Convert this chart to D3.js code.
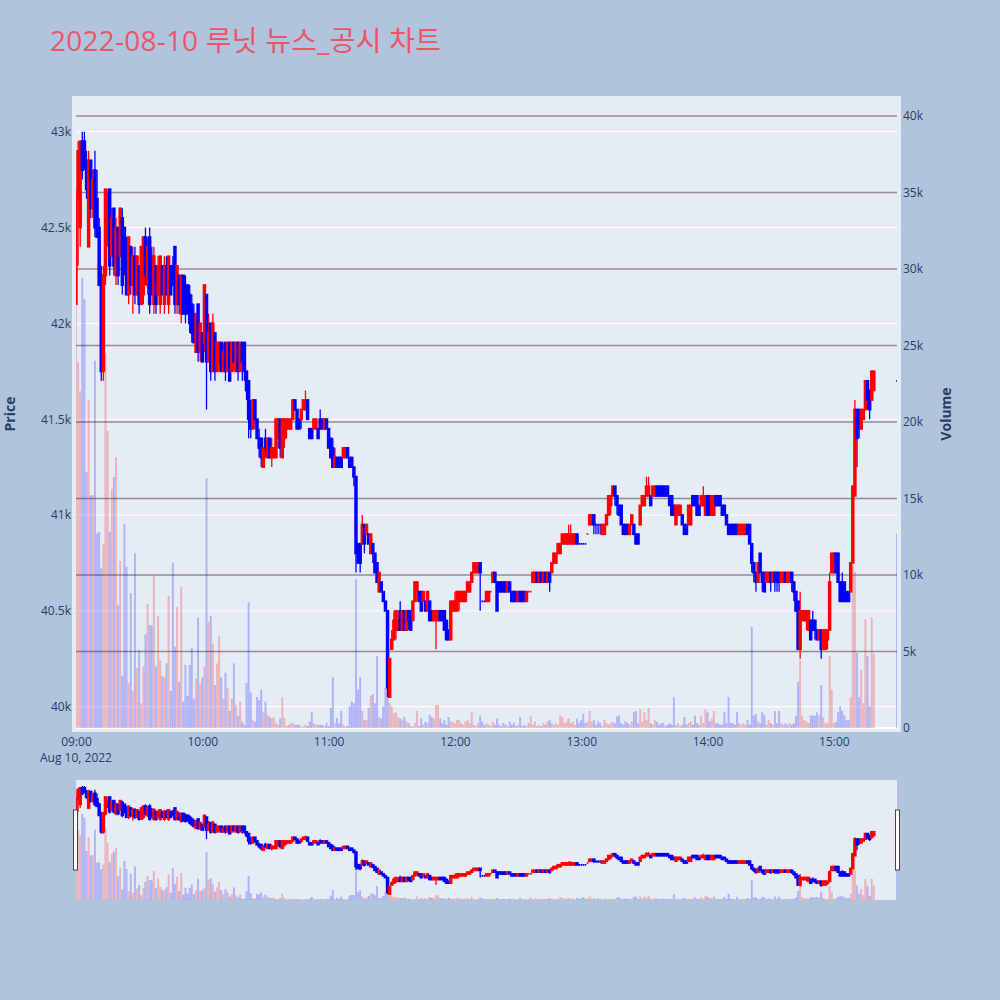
<!DOCTYPE html>
<html><head><meta charset="utf-8">
<script src="https://cdn.jsdelivr.net/npm/d3@7"></script>
<style>html,body{margin:0;padding:0;background:#B0C4DE}svg{display:block}</style>
</head><body>
<svg id="chart" width="1000" height="1000"></svg>
<script>
// ---------------- data ----------------
const titleText = "2022-08-10 루닛 뉴스_공시 차트";
const sessionDate = "2022-08-10";
const sessionOpen = "09:00";
const sessionClose = "15:30";
// minutes after 09:00 for each candle (regular session 09:00-15:19, closing auction 15:30)
const minuteOffsets = d3.range(380).concat([390]);

const opens = [
42100,42650,42500,42950,42950,42850,42400,42850,42600,42800,
42650,42500,42250,41750,42250,42450,42700,42350,42600,42250,
42500,42350,42550,42500,42400,42150,42400,42200,42350,42150,
42300,42100,42150,42450,42200,42450,42350,42100,42300,42150,
42100,42300,42100,42300,42100,42300,42300,42400,42100,42250,
42050,42250,42200,42200,42150,42100,42050,41850,42100,41850,
41950,41900,42150,41800,42000,41750,41950,41750,41800,41900,
41750,41900,41750,41900,41750,41900,41750,41900,41750,41900,
41900,41750,41700,41550,41450,41600,41500,41400,41400,41250,
41400,41300,41400,41300,41300,41300,41400,41500,41300,41400,
41450,41450,41450,41500,41600,41550,41500,41500,41550,41550,
41600,41450,41450,41450,41450,41450,41500,41500,41450,41500,
41450,41400,41350,41250,41300,41300,41300,41300,41300,41350,
41300,41300,41250,41200,40850,40850,40850,40950,40900,40900,
40800,40850,40800,40750,40600,40650,40600,40550,40500,40050,
40300,40350,40400,40400,40500,40400,40500,40400,40500,40500,
40450,40550,40600,40600,40600,40550,40550,40500,40550,40500,
40450,40450,40450,40500,40500,40500,40450,40400,40350,40500,
40500,40500,40550,40550,40550,40550,40600,40600,40650,40700,
40700,40700,40750,40550,40550,40550,40550,40600,40650,40700,
40650,40650,40650,40650,40650,40600,40650,40600,40600,40600,
40550,40600,40600,40600,40550,40600,40600,40650,40650,40700,
40650,40700,40650,40700,40650,40700,40700,40750,40750,40800,
40800,40850,40850,40850,40850,40850,40850,40850,40900,40850,
40850,40850,40850,40900,40950,40950,41000,40950,40950,40950,
40900,40900,40950,41000,41050,41100,41150,41100,41050,41050,
40950,40950,40950,40900,40950,40950,40900,40900,40950,41050,
41050,41100,41100,41100,41100,41100,41150,41150,41150,41150,
41150,41150,41100,41100,41050,40950,41000,41000,41000,40950,
40950,40950,40950,41100,41100,41100,41050,41050,41050,41000,
41100,41100,41000,41000,41100,41100,41100,41050,41050,41000,
40950,40950,40950,40950,40950,40900,40900,40900,40900,40950,
40950,40850,40750,40700,40650,40800,40700,40700,40650,40650,
40700,40650,40700,40700,40700,40650,40650,40700,40650,40650,
40700,40650,40600,40550,40300,40450,40450,40450,40400,40450,
40450,40450,40400,40350,40400,40300,40300,40350,40400,40700,
40700,40800,40800,40650,40650,40650,40600,40600,40600,40750,
41100,41550,41550,41450,41500,41550,41700,41650,41600,41650,
41700];

const highs = [
42700,42950,42950,43000,43000,42900,42900,42850,42800,42900,
42800,42550,42300,42300,42700,42700,42700,42600,42600,42550,
42500,42600,42600,42500,42450,42450,42400,42400,42400,42350,
42300,42400,42450,42500,42450,42500,42400,42400,42300,42350,
42350,42300,42350,42350,42350,42300,42350,42400,42300,42250,
42250,42250,42250,42200,42200,42150,42100,42050,42100,42000,
41950,42200,42150,42050,42000,42050,41950,41900,41900,41900,
41900,41900,41900,41900,41900,41900,41900,41900,41900,41900,
41900,41750,41700,41600,41600,41600,41500,41450,41400,41350,
41450,41400,41400,41400,41350,41500,41500,41500,41500,41500,
41500,41500,41500,41600,41600,41550,41500,41550,41600,41650,
41600,41450,41450,41500,41500,41450,41550,41500,41500,41500,
41450,41400,41400,41350,41300,41300,41300,41350,41350,41350,
41300,41300,41250,41200,40850,40850,41000,40950,40950,40900,
40900,40850,40800,40750,40700,40650,40600,40550,40500,40250,
40400,40500,40500,40500,40550,40500,40500,40500,40500,40500,
40550,40650,40650,40600,40600,40600,40550,40600,40550,40500,
40500,40500,40500,40500,40500,40500,40450,40400,40550,40550,
40600,40600,40600,40600,40600,40600,40650,40650,40700,40750,
40750,40750,40750,40550,40550,40600,40600,40600,40700,40700,
40650,40650,40650,40650,40650,40650,40650,40600,40600,40600,
40600,40600,40600,40600,40600,40600,40600,40700,40700,40700,
40700,40700,40700,40700,40700,40700,40750,40800,40800,40850,
40850,40900,40900,40900,40950,40950,40900,40900,40900,40850,
40850,40850,40850,40900,41000,41000,41000,40950,40950,40950,
40950,40950,41000,41100,41100,41150,41150,41100,41050,41050,
40950,40950,40950,40950,41000,40950,40900,40900,41050,41100,
41100,41200,41200,41100,41150,41150,41150,41150,41150,41150,
41150,41150,41100,41100,41050,41050,41050,41050,41000,40950,
40950,41050,41050,41100,41100,41100,41050,41100,41150,41100,
41100,41100,41100,41100,41100,41100,41100,41050,41050,41000,
40950,40950,40950,40950,40950,40950,40950,40950,40950,40950,
40950,40850,40750,40700,40750,40800,40700,40700,40700,40700,
40700,40700,40700,40700,40700,40700,40700,40700,40700,40700,
40700,40650,40600,40550,40600,40500,40500,40500,40500,40450,
40500,40450,40400,40400,40400,40400,40400,40400,40700,40800,
40800,40800,40800,40650,40700,40650,40600,40600,40750,41150,
41600,41550,41550,41550,41550,41700,41700,41650,41750,41750,
41700];

const lows = [
42100,42300,42400,42750,42800,42650,42400,42550,42550,42450,
42450,42200,41700,41700,42200,42400,42250,42350,42250,42200,
42200,42350,42150,42250,42150,42100,42150,42050,42100,42150,
42050,42100,42100,42200,42150,42050,42150,42050,42050,42150,
42050,42150,42050,42150,42050,42150,42200,42050,42050,42050,
42000,42050,42000,42050,41950,41900,41900,41850,41800,41800,
41800,41850,41550,41800,41700,41750,41700,41750,41750,41750,
41750,41700,41750,41700,41750,41750,41750,41700,41750,41700,
41700,41600,41400,41400,41450,41450,41400,41300,41250,41250,
41300,41300,41300,41250,41300,41300,41350,41300,41300,41350,
41400,41450,41450,41500,41550,41450,41450,41450,41550,41550,
41500,41400,41400,41450,41450,41400,41450,41450,41450,41450,
41350,41300,41250,41250,41250,41250,41250,41300,41300,41300,
41250,41250,41150,40700,40750,40700,40850,40800,40900,40850,
40800,40750,40700,40650,40600,40600,40550,40500,40050,40050,
40300,40350,40350,40400,40400,40400,40400,40400,40400,40400,
40450,40550,40550,40550,40500,40550,40500,40500,40450,40450,
40450,40300,40450,40450,40450,40400,40350,40350,40350,40500,
40500,40500,40500,40550,40550,40550,40600,40600,40650,40700,
40700,40700,40500,40550,40550,40550,40550,40600,40650,40650,
40500,40600,40600,40600,40600,40600,40600,40550,40550,40550,
40550,40550,40550,40550,40550,40600,40600,40650,40650,40650,
40650,40650,40650,40650,40650,40600,40700,40750,40750,40800,
40800,40850,40850,40850,40850,40850,40850,40850,40850,40850,
40850,40850,40850,40900,40950,40950,40900,40900,40900,40900,
40900,40900,40950,41000,41000,41100,41050,41000,41000,40950,
40900,40900,40900,40900,40950,40900,40850,40850,40950,41050,
41050,41100,41100,41050,41100,41100,41100,41100,41100,41100,
41100,41100,41050,41000,41000,40950,41000,41000,40950,40900,
40900,40950,40950,41050,41050,41000,41000,41050,41050,41000,
41000,41000,41000,41000,41050,41050,41050,41000,41000,40950,
40900,40900,40900,40900,40900,40900,40900,40900,40900,40900,
40850,40700,40650,40600,40650,40700,40600,40600,40650,40650,
40600,40650,40600,40600,40600,40650,40650,40650,40650,40650,
40600,40550,40500,40300,40250,40450,40450,40400,40400,40350,
40400,40350,40350,40350,40250,40300,40300,40300,40400,40700,
40700,40700,40650,40550,40550,40550,40550,40550,40600,40750,
41100,41250,41400,41450,41500,41550,41550,41500,41600,41650,
41700];

const closes = [
42650,42900,42950,42800,42850,42700,42850,42600,42750,42500,
42450,42200,41750,42250,42700,42650,42300,42550,42300,42500,
42250,42600,42200,42300,42150,42450,42200,42350,42150,42350,
42100,42400,42450,42250,42400,42100,42150,42350,42100,42300,
42350,42150,42300,42150,42350,42150,42200,42100,42300,42100,
42250,42050,42050,42050,42000,41950,41900,42050,41850,42000,
41800,42200,41800,41950,41750,42000,41750,41900,41900,41750,
41850,41750,41900,41700,41900,41800,41900,41750,41900,41800,
41750,41650,41500,41450,41600,41500,41400,41350,41300,41350,
41350,41400,41300,41350,41350,41500,41500,41350,41500,41500,
41500,41500,41500,41600,41550,41450,41450,41550,41600,41600,
41500,41400,41400,41500,41500,41400,41450,41450,41500,41450,
41350,41300,41250,41300,41250,41250,41250,41350,41350,41300,
41250,41250,41200,40800,40750,40750,40950,40850,40950,40850,
40900,40800,40700,40650,40700,40600,40550,40500,40100,40250,
40350,40450,40500,40450,40400,40500,40400,40500,40450,40400,
40550,40650,40650,40550,40500,40600,40500,40600,40450,40450,
40500,40500,40500,40450,40450,40400,40350,40350,40550,40550,
40550,40600,40600,40600,40600,40600,40650,40650,40700,40750,
40750,40750,40700,40550,40550,40600,40600,40600,40700,40650,
40500,40600,40600,40600,40600,40650,40600,40550,40550,40550,
40600,40550,40550,40550,40600,40600,40600,40700,40700,40650,
40700,40650,40700,40650,40700,40650,40750,40800,40800,40850,
40850,40900,40900,40900,40900,40900,40900,40900,40850,40850,
40850,40850,40850,40900,41000,41000,40950,40950,40950,40950,
40950,40950,41000,41100,41100,41150,41100,41050,41000,40950,
40900,40900,40900,40950,41000,40900,40850,40850,41050,41100,
41100,41150,41150,41050,41150,41150,41100,41100,41100,41100,
41100,41100,41050,41000,41000,41050,41050,41050,40950,40900,
40900,41050,41050,41050,41050,41000,41000,41100,41100,41100,
41000,41000,41100,41100,41050,41050,41050,41000,41000,40950,
40900,40900,40900,40900,40900,40950,40950,40950,40950,40900,
40850,40750,40700,40650,40750,40700,40650,40600,40700,40700,
40650,40700,40650,40650,40650,40700,40700,40650,40700,40700,
40650,40600,40500,40300,40500,40500,40500,40500,40500,40350,
40400,40400,40350,40400,40300,40400,40400,40400,40650,40800,
40800,40700,40650,40550,40550,40550,40550,40550,40750,41150,
41550,41400,41450,41550,41550,41700,41600,41550,41750,41750,
41700];

const volumes = [
37500,23900,22000,29400,28000,16700,21400,15200,15200,24000,
12700,12800,10400,12000,24500,19400,12800,15600,16400,17700,
8000,10900,3400,13300,10500,2900,8800,2400,11400,3900,
5100,1600,4000,6100,8100,6700,6700,9900,4000,7300,
4400,3400,3300,4200,8600,2400,10800,5300,7900,3000,
9200,1700,4100,2100,4100,5200,1900,3200,7200,2900,
3300,4000,16300,6900,7300,5500,2800,4200,6000,3300,
1900,3600,2600,1100,1900,4200,1500,800,1700,400,
200,2900,8200,2300,500,400,2000,1800,2500,1000,
1700,850,700,600,700,300,200,600,2000,650,
100,200,300,300,200,200,200,50,100,200,
100,400,1000,300,200,200,200,200,100,300,
100,1300,3300,300,650,300,1100,200,100,100,
1400,1700,1600,9700,2500,3300,1100,500,500,1300,
2100,2200,1600,4700,700,600,1400,2600,3800,1600,
1400,950,1000,700,600,500,700,400,300,100,
100,300,1100,100,600,200,400,300,850,700,
600,1500,1500,600,300,500,200,700,400,400,
300,500,500,300,200,400,500,300,1000,200,
100,300,800,400,200,300,200,100,400,200,
600,200,100,300,200,100,400,200,300,100,
200,700,100,200,100,300,750,200,400,100,
200,100,300,200,400,500,300,200,300,200,
800,700,300,400,600,300,400,200,600,300,
500,900,300,400,1100,400,500,200,400,300,
100,500,300,200,300,400,300,750,800,300,
200,400,300,200,400,1000,1100,300,1200,400,
1000,500,1300,300,200,500,400,200,300,300,
100,200,300,200,2000,200,300,100,200,700,
200,300,400,200,800,300,200,800,300,1200,
1000,400,600,1100,300,300,200,200,1000,300,
2000,300,300,200,1000,300,200,300,200,500,
200,6600,800,900,400,300,1000,800,200,500,
300,200,1100,300,1100,300,200,300,200,300,
200,300,800,3000,4400,800,500,400,300,800,
800,800,1000,800,2800,700,300,300,4700,2500,
300,400,1000,1400,1100,800,500,500,2000,10600,
10200,4900,2000,3800,1600,7100,4700,1400,7200,4800,
12700];

const priceTicks = [40000, 40500, 41000, 41500, 42000, 42500, 43000];
const volumeTicks = [0, 5000, 10000, 15000, 20000, 25000, 30000, 35000, 40000];
const hourTicks = ["09:00", "10:00", "11:00", "12:00", "13:00", "14:00", "15:00"];
const firstTickDateLabel = "Aug 10, 2022";

// ---------------- layout ----------------
const svg = d3.select("#chart");
const FONT = "'Open Sans', 'Noto Sans', sans-serif";
const TXT = "#2a3f5f";
const UP = "#ff0000", DOWN = "#0000ff";
const P = {x0: 76, x1: 897, y0: 100, y1: 728};
const S = {y0: 780, y1: 900};

const parse = d3.timeParse("%Y-%m-%d %H:%M");
const t0 = parse(sessionDate + " " + sessionOpen);
const tEnd = parse(sessionDate + " " + sessionClose);
const times = minuteOffsets.map(m => d3.timeMinute.offset(t0, m));

const x = d3.scaleTime().domain([t0, tEnd]).range([P.x0, P.x1]);
const yP = d3.scaleLinear().domain([40000, 43000]).range([706.7, 131.7]);
const yV = d3.scaleLinear().domain([0, 40000]).range([728, 116]);
// range slider: same data, vertically compressed
const toS = y => S.y0 + (y - P.y0) * (S.y1 - S.y0) / (P.y1 - P.y0);
const yPs = d3.scaleLinear().domain(yP.domain()).range(yP.range().map(toS));
const yVs = d3.scaleLinear().domain(yV.domain()).range(yV.range().map(toS));

// candle direction (plotly style: ties fall back on previous close / previous direction)
const isUp = [];
closes.forEach((c, i) => {
  const o = opens[i];
  let u;
  if (c > o) u = true; else if (c < o) u = false;
  else if (i > 0 && c > closes[i - 1]) u = true;
  else if (i > 0 && c < closes[i - 1]) u = false;
  else u = i > 0 ? isUp[i - 1] : true;
  isUp.push(u);
});
const rows = times.map((t, i) => ({t, o: opens[i], h: highs[i], l: lows[i], c: closes[i], v: volumes[i], up: isUp[i]}));

// defs / clips
const defs = svg.append("defs");
defs.append("clipPath").attr("id", "clipMain").append("rect")
  .attr("x", P.x0).attr("y", P.y0 - 4).attr("width", P.x1 - P.x0).attr("height", P.y1 - P.y0 + 4);
defs.append("clipPath").attr("id", "clipSlider").append("rect")
  .attr("x", P.x0).attr("y", S.y0).attr("width", P.x1 - P.x0).attr("height", S.y1 - S.y0);

// title
svg.append("text").attr("x", 50).attr("y", 51)
  .attr("font-family", "'Open Sans', 'Noto Sans CJK KR', sans-serif")
  .attr("font-size", 28).attr("fill", "#ee5468").attr("textLength", 391).attr("lengthAdjust", "spacing")
  .text(titleText);

// plot background
svg.append("rect").attr("x", 72).attr("y", 96).attr("width", 829).attr("height", 636).attr("fill", "#E5ECF6");

// gridlines
const grid = svg.append("g");
grid.selectAll("line.pg").data(priceTicks).join("line")
  .attr("x1", P.x0).attr("x2", P.x1).attr("y1", d => yP(d)).attr("y2", d => yP(d))
  .attr("stroke", "#ffffff").attr("stroke-width", 1);
grid.selectAll("line.vg").data(volumeTicks.filter(d => d > 0)).join("line")
  .attr("x1", P.x0).attr("x2", P.x1).attr("y1", d => yV(d)).attr("y2", d => yV(d))
  .attr("stroke", "#8f8f8f").attr("stroke-width", 1.4);
grid.append("line").attr("x1", P.x0).attr("x2", P.x1).attr("y1", yV(0)).attr("y2", yV(0))
  .attr("stroke", "#ffffff").attr("stroke-width", 2);

const step = x(d3.timeMinute.offset(t0, 1)) - x(t0);

function drawSeries(g, ys, yv) {
  g.selectAll("rect.vol").data(rows).join("rect").attr("class", "vol")
    .attr("x", d => x(d.t) - step * 0.36).attr("width", step * 0.72)
    .attr("y", d => yv(d.v)).attr("height", d => Math.max(0, yv(0) - yv(d.v)))
    .attr("fill", d => d.up ? "rgba(255,0,0,0.22)" : "rgba(0,0,255,0.22)")
    .attr("stroke", d => d.up ? "rgba(255,0,0,0.15)" : "rgba(0,0,255,0.15)")
    .attr("stroke-width", 0.5);
  g.selectAll("line.wick").data(rows).join("line").attr("class", "wick")
    .attr("x1", d => x(d.t)).attr("x2", d => x(d.t))
    .attr("y1", d => ys(d.h)).attr("y2", d => ys(d.l))
    .attr("stroke", d => d.up ? UP : DOWN).attr("stroke-width", 1.3);
  g.selectAll("path.body").data(rows).join("path").attr("class", "body")
    .attr("d", d => {
      const cx = x(d.t), hw = step * 0.4;
      const yt = ys(Math.max(d.o, d.c)), yb = ys(Math.min(d.o, d.c));
      return `M${cx - hw},${yt}H${cx + hw}V${yb}H${cx - hw}Z`;
    })
    .attr("fill", d => d.up ? UP : DOWN)
    .attr("stroke", d => d.up ? UP : DOWN).attr("stroke-width", 1.8);
}

drawSeries(svg.append("g").attr("clip-path", "url(#clipMain)"), yP, yV);

// axes
function styleAxis(g) {
  g.select(".domain").remove();
  g.selectAll(".tick line").remove();
  g.selectAll("text").attr("font-family", FONT).attr("font-size", 12).attr("fill", TXT);
}
const fmtK = d => d === 0 ? "0" : (d / 1000) + "k";
svg.append("g").attr("transform", `translate(${P.x0},0)`)
  .call(d3.axisLeft(yP).tickValues(priceTicks).tickFormat(fmtK).tickSize(0).tickPadding(5)).call(styleAxis);
svg.append("g").attr("transform", `translate(${P.x1},0)`)
  .call(d3.axisRight(yV).tickValues(volumeTicks).tickFormat(fmtK).tickSize(0).tickPadding(6)).call(styleAxis);
const hourDates = hourTicks.map(h => parse(sessionDate + " " + h));
svg.append("g").attr("transform", `translate(0,${P.y1})`)
  .call(d3.axisBottom(x).tickValues(hourDates).tickFormat(d3.timeFormat("%H:%M")).tickSize(0).tickPadding(9)).call(styleAxis);
svg.append("text").attr("x", x(t0)).attr("y", 762).attr("text-anchor", "middle")
  .attr("font-family", FONT).attr("font-size", 12).attr("fill", TXT).text(firstTickDateLabel);

// axis titles
svg.append("text").attr("transform", "translate(15,414) rotate(-90)").attr("text-anchor", "middle")
  .attr("font-family", FONT).attr("font-size", 14).attr("font-weight", "bold").attr("fill", TXT).text("Price");
svg.append("text").attr("transform", "translate(951,414) rotate(-90)").attr("text-anchor", "middle")
  .attr("font-family", FONT).attr("font-size", 14).attr("font-weight", "bold").attr("fill", TXT).text("Volume");

// range slider
svg.append("rect").attr("x", P.x0).attr("y", S.y0).attr("width", P.x1 - P.x0).attr("height", S.y1 - S.y0).attr("fill", "#E5ECF6");
drawSeries(svg.append("g").attr("clip-path", "url(#clipSlider)"), yPs, yVs);
[P.x0 - 2.5, P.x1 - 1.5].forEach(hx => {
  svg.append("rect").attr("x", hx).attr("y", 810).attr("width", 4).attr("height", 60)
    .attr("fill", "#ffffff").attr("stroke", "#444444").attr("stroke-width", 1);
});
</script>
</body></html>
